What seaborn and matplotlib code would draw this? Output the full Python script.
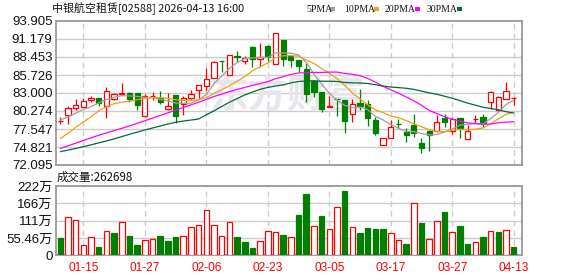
import numpy as np
import pandas as pd
import matplotlib
matplotlib.use("Agg")
import matplotlib.pyplot as plt
from matplotlib.patches import Rectangle
import seaborn as sns

# ---------------- data ----------------
title = "中银航空租赁[02588] 2026-04-13 16:00"
vol_title = "成交量:262698"
dates = ['01-12','01-13','01-14','01-15','01-16','01-19','01-20','01-21','01-22','01-23',
         '01-26','01-27','01-28','01-29','01-30','02-02','02-03','02-04','02-05','02-06',
         '02-09','02-10','02-11','02-12','02-13','02-16','02-20','02-23','02-24','02-25',
         '02-26','02-27','03-02','03-03','03-04','03-05','03-06','03-09','03-10','03-11',
         '03-12','03-13','03-16','03-17','03-18','03-19','03-20','03-23','03-24','03-25',
         '03-26','03-27','03-30','03-31','04-01','04-02','04-08','04-09','04-10','04-13']
tick_labels = ['01-15','01-27','02-06','02-23','03-05','03-17','03-27','04-13']

opens = [78.70,79.66,80.75,80.95,81.92,82.20,81.10,82.05,82.90,83.05,
         83.00,79.45,82.50,82.30,80.55,82.70,81.29,82.30,83.50,84.10,
         85.23,87.90,85.73,88.55,87.85,90.02,88.10,90.15,87.39,91.03,
         88.60,88.00,86.60,84.82,83.10,80.95,82.12,81.94,79.82,81.53,
         81.29,78.91,75.10,76.24,78.35,77.14,78.20,75.47,77.24,77.24,
         79.17,77.24,79.17,75.98,79.00,79.32,81.59,80.35,82.05,82.25]
highs = [79.40,81.08,82.09,82.30,82.50,82.20,83.95,83.05,84.50,83.10,
         83.05,82.80,83.10,83.30,82.95,82.75,82.60,83.40,84.17,86.74,
         87.85,87.90,88.75,89.36,88.60,90.10,90.55,90.20,92.04,91.10,
         88.80,88.05,87.60,84.90,83.15,82.55,82.12,81.96,82.09,83.60,
         81.90,79.30,76.14,78.86,79.06,77.65,79.80,76.14,77.40,79.66,
         79.80,79.32,79.20,78.15,79.66,79.80,83.30,82.50,84.68,82.44]
lows = [78.25,78.35,80.45,80.90,81.70,81.10,79.15,81.95,82.70,81.60,
        80.50,79.40,81.95,81.30,80.45,78.45,79.66,82.05,82.20,83.30,
        85.20,86.20,85.70,87.74,87.34,86.99,86.99,87.85,87.34,87.14,
        86.99,86.14,81.60,82.40,80.12,80.88,79.56,76.90,78.56,80.43,
        78.00,76.60,75.08,76.24,77.65,75.53,76.40,73.96,74.26,77.04,
        77.80,76.74,76.14,75.98,78.41,77.90,80.58,80.30,82.05,81.18]
closes = [78.76,80.68,81.18,81.82,82.25,81.55,83.28,82.92,82.98,82.05,
          81.20,82.50,82.60,81.70,81.05,79.56,82.20,82.80,84.17,85.12,
          87.74,87.85,88.75,88.50,88.25,88.20,88.40,88.50,92.04,88.20,
          88.00,87.09,82.90,83.10,80.62,81.03,82.09,78.80,81.33,81.08,
          79.17,76.90,76.14,77.80,78.30,76.64,76.90,74.71,76.64,78.65,
          78.60,79.02,77.75,77.24,79.08,78.41,83.10,82.40,83.26,82.29]

ma5 = [78.90,79.40,79.95,80.50,80.94,81.50,82.02,82.36,82.60,82.56,
       82.49,82.33,82.27,82.01,81.81,81.48,81.42,81.46,81.96,82.77,
       84.41,85.54,86.73,87.59,88.22,88.31,88.42,88.37,89.08,89.07,
       89.03,88.77,87.65,85.86,84.34,82.95,81.95,81.13,80.77,80.87,
       80.49,79.46,78.92,78.22,77.66,77.16,77.16,76.87,76.64,76.71,
       77.10,77.52,78.13,78.25,78.34,78.30,79.12,80.05,81.25,81.89]
ma10 = [76.10,76.90,77.80,78.60,79.40,80.30,80.90,81.40,81.60,81.75,
        81.99,82.17,82.32,82.30,82.18,81.98,81.88,81.86,81.98,82.29,
        82.94,83.48,84.09,84.77,85.49,86.36,86.98,87.55,88.34,88.64,
        88.67,88.59,88.01,87.47,86.71,85.99,85.20,84.20,83.00,82.10,
        81.20,80.45,80.03,79.50,79.26,78.83,78.31,77.90,77.43,77.19,
        77.13,77.34,77.50,77.45,77.52,77.70,78.32,79.09,79.75,80.12]
ma20 = [74.60,75.00,75.40,75.80,76.20,76.60,76.95,77.30,77.65,78.00,
        78.40,78.80,79.20,79.60,80.00,80.40,80.80,81.20,81.60,82.02,
        82.47,82.83,83.20,83.54,83.84,84.17,84.43,84.71,85.16,85.47,
        85.81,86.04,86.05,86.12,86.10,86.17,86.17,85.97,85.83,85.62,
        85.20,84.65,84.02,83.48,82.98,82.41,81.83,81.14,80.37,79.89,
        79.42,79.02,78.76,78.47,78.39,78.26,78.31,78.49,78.59,78.65]
ma30 = [74.11,74.35,74.60,74.87,75.15,75.45,75.73,76.05,76.40,76.74,
        77.07,77.40,77.70,78.00,78.30,78.56,78.75,78.90,79.06,79.70,
        80.30,80.95,81.60,82.15,82.70,83.15,83.55,83.85,84.05,84.23,
        84.53,84.75,84.81,84.85,84.79,84.78,84.74,84.60,84.54,84.51,
        84.44,84.26,84.04,83.91,83.82,83.72,83.55,83.28,83.03,82.81,
        82.51,82.21,81.85,81.47,81.16,80.84,80.66,80.46,80.17,79.97]

volumes = [54.4,121.6,113.0,33.0,57.6,26.6,76.8,70.4,105.6,61.8,
           33.0,49.0,51.0,61.8,45.8,57.6,61.8,89.6,96.0,145.0,
           96.0,61.0,105.6,57.6,42.6,23.4,44.8,76.8,73.6,65.0,
           57.6,129.0,196.0,92.8,125.8,83.2,153.6,205.8,89.6,70.4,
           86.4,84.3,84.3,70.4,48.0,36.2,166.4,102.4,51.2,108.8,
           138.6,73.6,93.8,36.2,43.5,57.6,76.8,73.6,80.0,26.27]
vol_up = [0,1,1,1,1,0,1,0,1,0, 0,1,1,0,0,0,1,1,1,1,
          1,1,1,0,0,0,1,1,1,0, 1,0,0,1,0,1,1,0,1,0,
          0,0,0,1,1,0,1,0,1,1, 0,1,0,0,1,0,1,0,1,0]

price_ticks = [72.095,74.821,77.547,80.274,83.000,85.726,88.453,91.179,93.905]
price_tick_labels = ['72.095','74.821','77.547','80.274','83.000','85.726','88.453','91.179','93.905']
vol_ticks = [0,55.46,110.92,166.38,221.84]
vol_tick_labels = ['0','55.46万','111万','166万','222万']

ma_names = ['5PMA','10PMA','20PMA','30PMA']

# ---------------- style ----------------
sns.set_theme(style="white")
plt.rcParams['font.family'] = ['Liberation Sans', 'Noto Sans CJK SC', 'DejaVu Sans']

RED = '#ff0000'
GREEN = '#008000'
GRID = '#cccccc'
FRAME = '#9a9a9a'
ma_colors = ['#a0a0a0', '#f0a010', '#ff00ff', '#006b36']

W, H = 578, 276
fig = plt.figure(figsize=(W/100, H/100), dpi=100)
fig.patch.set_facecolor('white')

def fbox(l, t, r, b):
    return [l/W, 1-b/H, (r-l)/W, (b-t)/H]

ax = fig.add_axes(fbox(56, 21, 522, 165))
axv = fig.add_axes(fbox(56, 186, 522, 255.3))

n = len(dates)
x = np.arange(n)
df = pd.DataFrame({'x': x, 'open': opens, 'high': highs, 'low': lows, 'close': closes,
                   'ma5': ma5, 'ma10': ma10, 'ma20': ma20, 'ma30': ma30,
                   'vol': volumes, 'vol_up': vol_up})
tick_pos = [dates.index(t) for t in tick_labels]
xlim = (-0.56, n + 0.08)

for a in (ax, axv):
    a.set_xlim(*xlim)
    a.set_facecolor('white')
    for s in a.spines.values():
        s.set_color(FRAME)
        s.set_linewidth(1.3)
    a.set_xticks(tick_pos)
    a.tick_params(length=0)
    a.grid(False)
    for xp in tick_pos:
        a.axvline(xp, color=GRID, lw=1, ls=(0, (4, 3)), zorder=0)

# watermark
ax.text(29.5, 82.4, "东方财富", fontsize=28, color='#e6e6ec', ha='center', va='center',
        family=['Noto Sans CJK SC'], fontweight='bold', zorder=0.5)

# price panel
ax.set_ylim(price_ticks[0], price_ticks[-1])
ax.set_yticks(price_ticks)
ax.set_yticklabels(price_tick_labels)
for yv in price_ticks[1:-1]:
    ax.axhline(yv, color=GRID, lw=1, zorder=0)
ax.set_xticklabels([])
ax.tick_params(axis='y', pad=2.5, labelsize=9.5, labelcolor='#111111')

bw = 0.68
for _, r in df.iterrows():
    o, c, h, l = r['open'], r['close'], r['high'], r['low']
    col = RED if c >= o else GREEN
    lo, hi = min(o, c), max(o, c)
    ax.vlines(r['x'], l, lo, color=col, lw=0.9, zorder=2)
    ax.vlines(r['x'], hi, h, color=col, lw=0.9, zorder=2)
    height = max(hi - lo, 0.02)
    ax.bar(r['x'], height, bottom=lo, width=bw, facecolor='white' if c >= o else GREEN,
           edgecolor=col, linewidth=0.9, zorder=3)

for name, col, key in zip(ma_names, ma_colors, ['ma5', 'ma10', 'ma20', 'ma30']):
    sns.lineplot(data=df, x='x', y=key, ax=ax, color=col, linewidth=0.9, legend=False, zorder=4)
ax.set_xlabel('')
ax.set_ylabel('')

# volume panel
axv.set_ylim(vol_ticks[0], vol_ticks[-1])
axv.set_yticks(vol_ticks)
axv.set_yticklabels(vol_tick_labels)
for yv in vol_ticks[1:-1]:
    axv.axhline(yv, color=GRID, lw=1, zorder=0)
axv.bar(df['x'], df['vol'], width=0.72,
        color=['white' if u else GREEN for u in vol_up],
        edgecolor=[RED if u else GREEN for u in vol_up], linewidth=0.9, zorder=3)
axv.set_xticklabels(tick_labels)
axv.tick_params(axis='y', pad=2.5, labelsize=9.5, labelcolor='#111111')
axv.tick_params(axis='x', pad=5, labelsize=8.6, labelcolor=RED)
axv.set_xlabel('')
axv.set_ylabel('')

# header
fig.text(52/W, 1-9/H, title, fontsize=7.9, ha='left', va='center', color='#111111',
         family=['Noto Sans CJK SC', 'DejaVu Sans'])
leg_x = [306, 344, 385, 427]
dash_x = [330, 374, 415, 457]
for name, col, lx, dx in zip(ma_names, ma_colors, leg_x, dash_x):
    fig.text(lx/W, 1-9/H, name, fontsize=7, ha='left', va='center', color='#111111',
             family=['Liberation Serif'])
    fig.add_artist(Rectangle((dx/W, 1-11/H), 5/W, 4/H, transform=fig.transFigure,
                             facecolor=col, edgecolor='none'))
fig.text(57/W, 1-177/H, vol_title, fontsize=8.3, ha='left', va='center', color='#111111',
         family=['Noto Sans CJK SC', 'DejaVu Sans'])

fig.savefig('out.png', dpi=100, facecolor='white')
